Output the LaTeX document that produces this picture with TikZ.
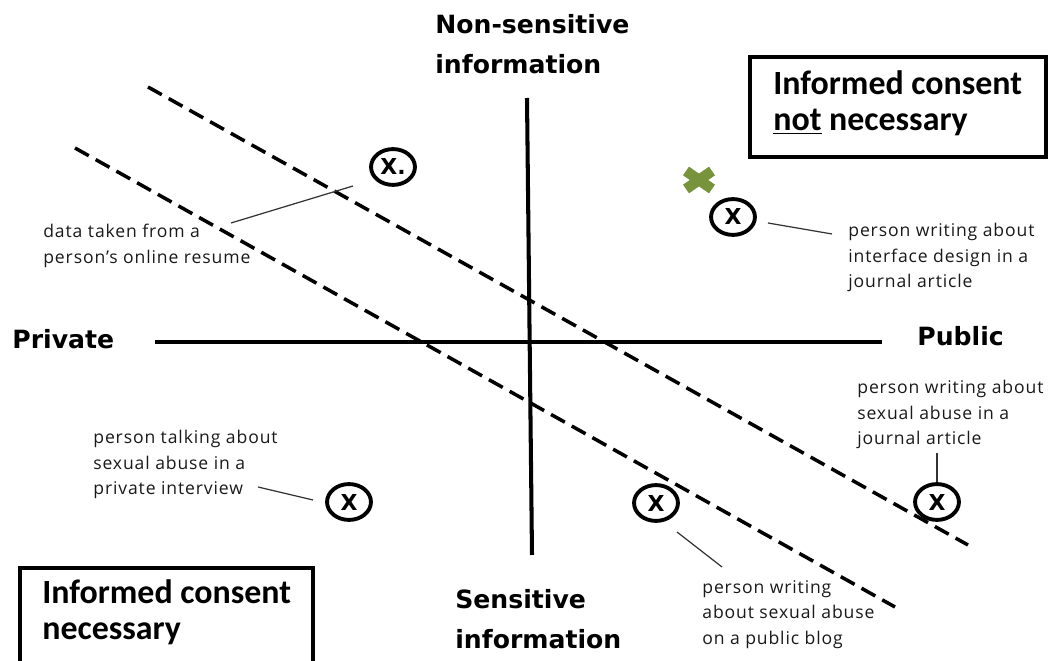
\documentclass[tikz,border=0pt]{standalone}
\usepackage{fontspec}
\usepackage{tikz}
\usetikzlibrary{calc,shapes.geometric,positioning}
\setmainfont{Open Sans}
\newfontfamily\notefont{Open Sans}[LetterSpace=5]
\newfontfamily\axisfont{DejaVu Sans}
\newfontfamily\consentfont{Carlito}
\definecolor{crossgreen}{RGB}{119,147,60}

\begin{document}
\begin{tikzpicture}[x=0.02cm,y=-0.02cm,
	axisline/.style={line width=2.3pt},
	diagline/.style={line width=2pt,dash pattern=on 9pt off 4.5pt},
	spot/.style={draw,ellipse,line width=2.2pt,minimum width=25pt,minimum height=20.4pt,inner sep=0pt,font=\axisfont\bfseries\fontsize{12.5}{12.5}\selectfont},
	leader/.style={line width=0.7pt,black!80},
	note/.style={anchor=north west,inner sep=0pt,align=left,text=black!90,font=\notefont\fontsize{10}{14.5}\selectfont},
	heading/.style={anchor=north west,inner sep=0pt,align=left,font=\axisfont\bfseries\fontsize{14.3}{22.7}\selectfont},
	consent/.style={anchor=north west,inner sep=0pt,align=left,font=\consentfont\bfseries\fontsize{19.3}{20.7}\selectfont},
	consentbox/.style={line width=2.4pt}]
								\useasboundingbox (0,0) rectangle (1049,661);

								\coordinate (nonsens) at (527,98);
								\coordinate (sens) at (532,555);
								\coordinate (priv) at (155,342);
								\coordinate (pub) at (882,342);

								\draw[axisline] (nonsens) -- (sens);
								\draw[axisline] (priv) -- (pub);

								\draw[diagline] (148,87) -- (968,545);
								\draw[diagline] (75,148) -- (895,607);

								\node[heading] (nonsenslabel) at (435,14) {Non-sensitive\\information};
								\node[heading] (senslabel) at (455,589) {Sensitive\\information};
								\node[heading] (privlabel) at (12,329) {Private};
								\node[heading] (publabel) at (917,326) {Public};

								\draw[consentbox] (750,57) rectangle (1046,157);
								\node[consent] (notneeded) at (773,70) {Informed consent\\\underline{not} necessary};
								\draw[consentbox] (20,568) rectangle (313,670);
								\node[consent] (needed) at (42,579) {Informed consent\\necessary};

								\draw[crossgreen,line width=6pt] (686,171) -- (712,189) (686,189) -- (712,171);

								\node[spot] (resume) at (393,167) {X.};
								\node[spot] (design) at (733,217) {X};
								\node[spot] (interview) at (349,502) {X};
								\node[spot] (blog) at (656,503) {X};
								\node[spot] (abuse) at (937,502) {X};

								\node[note] (resumetext) at (43,224) {data taken from a\\person’s online resume};
								\node[note] (designtext) at (848,223) {person writing about\\interface design in a\\journal article};
								\node[note] (interviewtext) at (93,430) {person talking about\\sexual abuse in a\\private interview};
								\node[note] (blogtext) at (702,580) {person writing\\about sexual abuse\\on a public blog};
								\node[note] (abusetext) at (857,380) {person writing about\\sexual abuse in a\\journal article};

								\coordinate (resumefoot) at (231,223);
								\coordinate (resumetip) at (353,186);
								\coordinate (designtip) at (768,223);
								\coordinate (designfoot) at (832,234);
								\coordinate (interviewfoot) at (258,487);
								\coordinate (interviewtip) at (313,500);
								\coordinate (blogtip) at (677,532);
								\coordinate (blogfoot) at (722,567);
								\coordinate (abusefoot) at (937,453);

								\draw[leader] (resumefoot) -- (resumetip);
								\draw[leader] (designtip) -- (designfoot);
								\draw[leader] (interviewfoot) -- (interviewtip);
								\draw[leader] (blogtip) -- (blogfoot);
								\draw[leader] (abusefoot) -- (abuse.north);
\end{tikzpicture}
\end{document}
